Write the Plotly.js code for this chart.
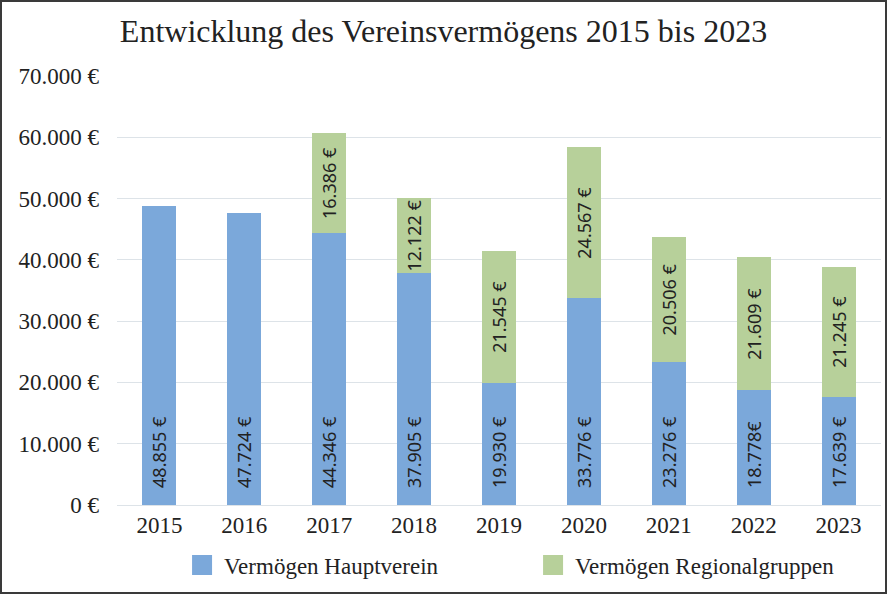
<!DOCTYPE html>
<html>
<head>
<meta charset="utf-8">
<script src="https://cdn.plot.ly/plotly-3.0.1.min.js"></script>
<style>
  body { margin: 0; padding: 0; background: #fff; }
  #wrap { position: relative; width: 887px; height: 595px; }
  #chart { width: 887px; height: 595px; }
  #frame { position: absolute; left: 0; top: 0; width: 887px; height: 594px; box-sizing: border-box;
           border: 2px solid #3a3a3a; pointer-events: none; }
  .legend .legendpoints path { d: path("M8,10H-12V-10H8Z"); }
  .legend { translate: 9px 0px; }
</style>
</head>
<body>
<div id="wrap">
  <div id="chart"></div>
  <div id="frame"></div>
</div>
<script>
const years = ['2015', '2016', '2017', '2018', '2019', '2020', '2021', '2022', '2023'];
const hauptverein = [48855, 47724, 44346, 37905, 19930, 33776, 23276, 18778, 17639];
const regionalgruppen = [null, null, 16386, 12122, 21545, 24567, 20506, 21609, 21245];
const hauptLabels = ['48.855 €', '47.724 €', '44.346 €', '37.905 €', '19.930 €', '33.776 €', '23.276 €', '18.778€', '17.639 €'];
const regioLabels = ['', '', '16.386 €', '12.122 €', '21.545 €', '24.567 €', '20.506 €', '21.609 €', '21.245 €'];
const yTickVals = [0, 10000, 20000, 30000, 40000, 50000, 60000, 70000];
const yTickText = ['0 €', '10.000 €', '20.000 €', '30.000 €', '40.000 €', '50.000 €', '60.000 €', '70.000 €'];
const seriesNames = ['Vermögen Hauptverein', 'Vermögen Regionalgruppen'];

const labelFont = { family: 'Noto Sans, DejaVu Sans, sans-serif', size: 18, color: '#222' };
const pad = '\u00a0\u00a0\u00a0';

const traces = [
  {
    type: 'bar', name: seriesNames[0], x: years, y: hauptverein,
    marker: { color: '#7BA8DA' },
    text: hauptLabels.map(t => pad + t), texttemplate: '%{text}', textposition: 'inside',
    insidetextanchor: 'start', textangle: -90, constraintext: 'none',
    insidetextfont: labelFont, hoverinfo: 'x+y'
  },
  {
    type: 'bar', name: seriesNames[1], x: years, y: regionalgruppen,
    marker: { color: '#B7D09A' },
    text: regioLabels, texttemplate: '%{text}', textposition: 'inside',
    insidetextanchor: 'middle', textangle: -90, constraintext: 'none',
    insidetextfont: labelFont, hoverinfo: 'x+y'
  }
];

const layout = {
  width: 887, height: 595,
  barmode: 'stack', bargap: 0.6,
  paper_bgcolor: '#fff', plot_bgcolor: '#fff',
  margin: { l: 117, r: 6, t: 76, b: 90 },
  font: { family: 'Liberation Serif, Times New Roman, serif', color: '#222' },
  title: {
    text: 'Entwicklung des Vereinsvermögens 2015 bis 2023',
    font: { family: 'Liberation Serif, Times New Roman, serif', size: 32, color: '#222' },
    x: 0.5, xanchor: 'center', y: 0.948, yanchor: 'middle'
  },
  xaxis: {
    type: 'category', showgrid: false, zeroline: false, showline: false,
    ticks: '', tickfont: { size: 23, color: '#222' }, ticklabelstandoff: 4
  },
  yaxis: {
    range: [0, 70000], tickvals: yTickVals, ticktext: yTickText,
    showgrid: true, gridcolor: '#DDE3E8', gridwidth: 1,
    zeroline: true, zerolinecolor: '#DDE3E8', zerolinewidth: 1,
    showline: false, ticks: '', ticklabelstandoff: 17,
    tickfont: { size: 23, color: '#222' }
  },
  showlegend: true,
  legend: {
    orientation: 'h', x: 0.076, xanchor: 'left', y: -0.14, yanchor: 'middle',
    entrywidth: 306, entrywidthmode: 'pixels', itemwidth: 30,
    font: { size: 23, color: '#222' }, traceorder: 'normal'
  },
  uniformtext: { mode: false }
};

Plotly.newPlot('chart', traces, layout, { displayModeBar: false, staticPlot: true });
</script>
</body>
</html>
